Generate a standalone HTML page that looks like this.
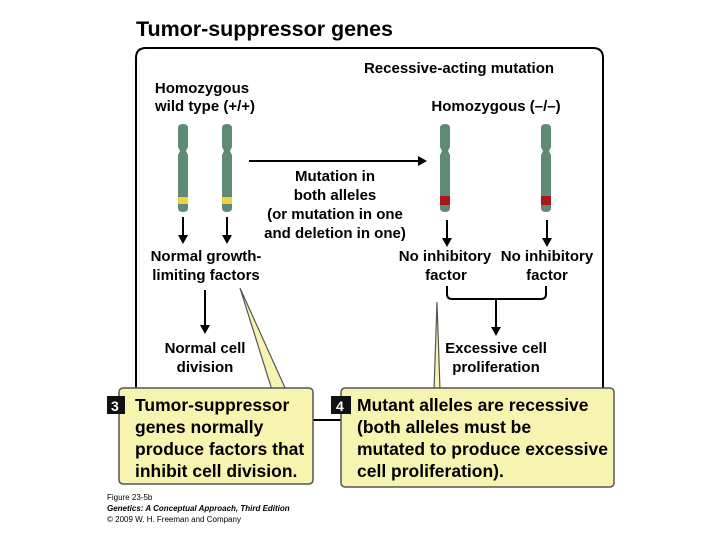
<!DOCTYPE html>
<html><head><style>body{margin:0;background:#fff}svg{display:block}text{font-family:"Liberation Sans",sans-serif;font-weight:bold}</style></head><body>
<svg width="720" height="540" viewBox="0 0 720 540" xmlns="http://www.w3.org/2000/svg">
<defs><marker id="a" markerWidth="10" markerHeight="10" refX="7" refY="5" orient="auto" markerUnits="userSpaceOnUse"><path d="M0,0 L9,5 L0,10 Z" fill="#000"/></marker></defs>
<text x="136" y="36" font-size="21.5" textLength="257">Tumor-suppressor genes</text>
<path d="M136,396 V58 Q136,48 146,48 H593 Q603,48 603,58 V396" fill="none" stroke="#000" stroke-width="2"/>
<line x1="313" y1="420" x2="341" y2="420" stroke="#000" stroke-width="2"/>
<g font-size="15" text-anchor="middle">
<text x="459" y="73">Recessive-acting mutation</text>
<text x="202" y="93">Homozygous</text>
<text x="205" y="111">wild type (+/+)</text>
<text x="496" y="111">Homozygous (–/–)</text>
<text x="335" y="181">Mutation in</text>
<text x="335" y="200">both alleles</text>
<text x="335" y="219">(or mutation in one</text>
<text x="335" y="238">and deletion in one)</text>
<text x="206" y="261">Normal growth-</text>
<text x="206" y="280">limiting factors</text>
<text x="445" y="261">No inhibitory</text>
<text x="547" y="261">No inhibitory</text>
<text x="446" y="280">factor</text>
<text x="547" y="280">factor</text>
<text x="205" y="353">Normal cell</text>
<text x="205" y="372">division</text>
<text x="496" y="353">Excessive cell</text>
<text x="496" y="372">proliferation</text>
</g>
<g fill="#5f8a76">
<path d="M178,128 Q178,124 183,124 Q188,124 188,128 V147 L186,151 L188,155 V208 Q188,212 183,212 Q178,212 178,208 V155 L180,151 L178,147Z"/>
<path d="M222,128 Q222,124 227,124 Q232,124 232,128 V147 L230,151 L232,155 V208 Q232,212 227,212 Q222,212 222,208 V155 L224,151 L222,147Z"/>
<path d="M440,128 Q440,124 445,124 Q450,124 450,128 V147 L448,151 L450,155 V208 Q450,212 445,212 Q440,212 440,208 V155 L442,151 L440,147Z"/>
<path d="M541,128 Q541,124 546,124 Q551,124 551,128 V147 L549,151 L551,155 V208 Q551,212 546,212 Q541,212 541,208 V155 L543,151 L541,147Z"/>
</g>
<rect x="178" y="197" width="10" height="7" fill="#f0d040"/>
<rect x="222" y="197" width="10" height="7" fill="#f0d040"/>
<rect x="440" y="196" width="10" height="9" fill="#a81818"/>
<rect x="541" y="196" width="10" height="9" fill="#a81818"/>
<g stroke="#000" stroke-width="2" marker-end="url(#a)">
<line x1="183" y1="217" x2="183" y2="242"/>
<line x1="227" y1="217" x2="227" y2="242"/>
<line x1="447" y1="220" x2="447" y2="245"/>
<line x1="547" y1="220" x2="547" y2="245"/>
<line x1="249" y1="161" x2="425" y2="161"/>
<line x1="205" y1="290" x2="205" y2="332"/>
<line x1="496" y1="298" x2="496" y2="334"/>
</g>
<path d="M447,286 V294 Q447,299 452,299 H541 Q546,299 546,294 V286" fill="none" stroke="#000" stroke-width="2"/>
<polygon points="240,288 272,390 286,390" fill="#f7f3b0" stroke="#555" stroke-width="1.2"/>
<polygon points="437,302 434,390 440,390" fill="#f7f3b0" stroke="#555" stroke-width="1.2"/>
<rect x="119" y="388" width="194" height="96" rx="4" fill="#f7f3b0" stroke="#555" stroke-width="1.5"/>
<rect x="341" y="388" width="273" height="99" rx="4" fill="#f7f3b0" stroke="#555" stroke-width="1.5"/>
<rect x="107" y="396" width="18" height="18" fill="#111"/>
<text x="111" y="411" font-size="14" fill="#fff">3</text>
<rect x="331" y="396" width="20" height="18" fill="#111"/>
<text x="336" y="411" font-size="14" fill="#fff">4</text>
<g font-size="17.5">
<text x="135" y="411">Tumor-suppressor</text>
<text x="135" y="433">genes normally</text>
<text x="135" y="455">produce factors that</text>
<text x="135" y="477">inhibit cell division.</text>
<text x="357" y="411">Mutant alleles are recessive</text>
<text x="357" y="433">(both alleles must be</text>
<text x="357" y="455">mutated to produce excessive</text>
<text x="357" y="477">cell proliferation).</text>
</g>
<g font-size="8">
<text x="107" y="500" style="font-weight:normal">Figure 23-5b</text>
<text x="107" y="511" font-style="italic">Genetics: A Conceptual Approach, Third Edition</text>
<text x="107" y="522" style="font-weight:normal">© 2009 W. H. Freeman and Company</text>
</g>
</svg>
</body></html>
